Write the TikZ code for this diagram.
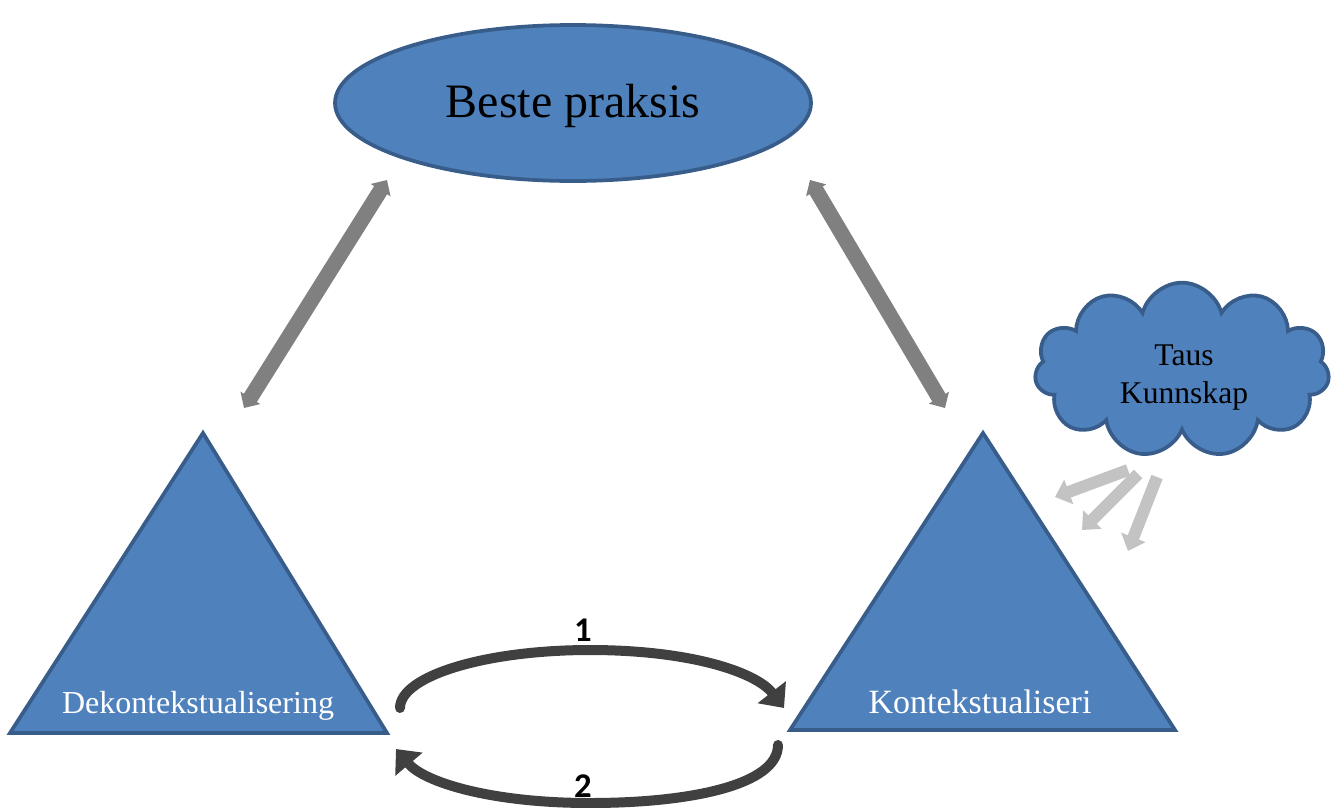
\documentclass[tikz,border=0pt]{standalone}
\usepackage{fontspec}
\setmainfont{Liberation Serif}
\newfontfamily\numfont{Carlito}
\usetikzlibrary{shapes.geometric,shapes.symbols,arrows.meta}
\definecolor{boxfill}{HTML}{4F81BD}
\definecolor{boxline}{RGB}{56,93,138}
\definecolor{dblgray}{RGB}{128,128,128}
\definecolor{lgray}{RGB}{195,195,195}
\definecolor{darkarc}{RGB}{64,64,64}
\begin{document}
\begin{tikzpicture}[x=0.75pt,y=-0.75pt,
  shapefill/.style={fill=boxfill,draw=boxline,line width=2.8pt},
  dbl/.style={draw=dblgray,line width=11.5pt,{Triangle[width=17pt,length=9pt]}-{Triangle[width=17pt,length=9pt]}},
  tacit/.style={draw=lgray,line width=9pt,-{Triangle[width=19pt,length=11pt]}},
  cycarrow/.style={draw=darkarc,line width=7.5pt,line cap=round,-{Triangle[width=26pt,length=15pt]}},
  numlabel/.style={font=\numfont\bfseries\fontsize{26}{28}\selectfont,inner sep=0pt},
  trilabel/.style={text=white,inner sep=0pt,anchor=base}
]
\useasboundingbox (0,0) rectangle (1333,807);

% top ellipse
\node[ellipse,shapefill,minimum width=357pt,minimum height=117pt,inner sep=0pt] (bp) at (573,103) {};
\node[inner sep=0pt,anchor=base,font=\fontsize{36}{40}\selectfont] (bpt) at (573,117) {Beste praksis};

% triangles
\draw[shapefill] (203,433) coordinate (dektop) -- (387,733) -- (10,733) -- cycle;
\draw[shapefill] (983,433) coordinate (kontop) -- (1175,730) -- (790,730) -- cycle;
\node[trilabel,font=\fontsize{24}{28}\selectfont] (dek) at (198,713) {Dekontekstualisering};
\node[trilabel,font=\fontsize{25.5}{28}\selectfont] (kon) at (980,713) {Kontekstualiseri};

% cloud
\node[cloud,cloud puffs=11,aspect=1.7,shapefill,minimum width=221pt,minimum height=131pt,
      inner sep=0pt] (taus) at (1182,370) {};
\node[inner sep=0pt,align=center,font=\fontsize{23.7}{28.5}\selectfont] (taust) at (1184,378) {Taus\\Kunnskap};

% gray double arrows
\coordinate (bpL) at (387,180);
\coordinate (dekA) at (244,408);
\coordinate (bpR) at (810,180);
\coordinate (konA) at (945,408);
\draw[dbl] (bpL) -- (dekA);
\draw[dbl] (bpR) -- (konA);

% tacit knowledge arrows
\coordinate (t1s) at (1128,470); \coordinate (t1e) at (1055,497);
\coordinate (t2s) at (1138,474); \coordinate (t2e) at (1082,530);
\coordinate (t3s) at (1157,477); \coordinate (t3e) at (1128,551);
\draw[tacit] (t1s) -- (t1e);
\draw[tacit] (t2s) -- (t2e);
\draw[tacit] (t3s) -- (t3e);

% cycle arrows
\node[numlabel] (n1) at (583,630) {1};
\node[numlabel] (n2) at (583,786) {2};
\coordinate (c1s) at (400,708);
\coordinate (c1e) at (784,708);
\coordinate (c2s) at (778,745);
\coordinate (c2e) at (396,749);
\draw[cycarrow] (c1s) .. controls (400,676) and (485,650) .. (590,650)
                     .. controls (690,650) and (756,672) .. (c1e);
\draw[cycarrow] (c2s) .. controls (778,785) and (690,803) .. (590,803)
                     .. controls (490,803) and (424,782) .. (c2e);
\end{tikzpicture}
\end{document}
